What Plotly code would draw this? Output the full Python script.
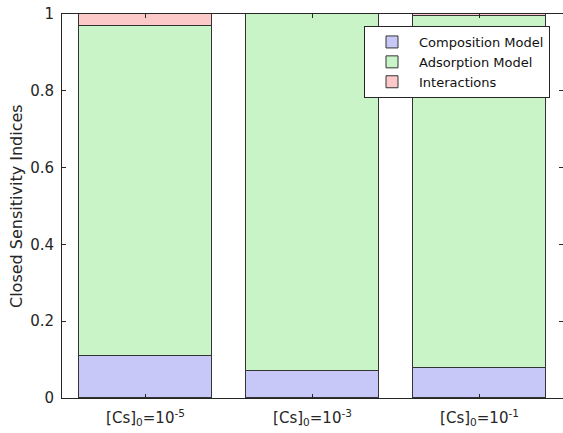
import plotly.graph_objects as go

categories = ["[Cs]<sub>0</sub>=10<sup>-5</sup>", "[Cs]<sub>0</sub>=10<sup>-3</sup>", "[Cs]<sub>0</sub>=10<sup>-1</sup>"]
composition = [0.109, 0.071, 0.079]
adsorption = [0.860, 0.929, 0.916]
interactions = [0.031, 0.000, 0.005]

xpos = [1, 2, 3]
edge = dict(color="#333333", width=1)
fig = go.Figure()
fig.add_trace(go.Bar(x=xpos, y=composition, name="Composition Model", marker=dict(color="#c8c8f8", line=edge), width=0.8))
fig.add_trace(go.Bar(x=xpos, y=adsorption, name="Adsorption Model", marker=dict(color="#c8f4c8", line=edge), width=0.8))
fig.add_trace(go.Bar(x=xpos, y=interactions, name="Interactions", marker=dict(color="#fcc8c8", line=edge), width=0.8))

W, H = 563, 433
L, R, T, B = 62, 0, 14, 35
pw, ph = W - L - R, H - T - B

axis_common = dict(showline=True, linecolor="#262626", linewidth=1, mirror="ticks", ticks="inside",
                   ticklen=4, tickcolor="#262626", showgrid=False, zeroline=False, automargin=False,
                   ticklabeloverflow="allow",
                   tickfont=dict(family="DejaVu Sans", size=15, color="#262626"))
fig.update_layout(
    width=W, height=H,
    barmode="stack", bargap=0,
    plot_bgcolor="white", paper_bgcolor="white",
    margin=dict(l=L, r=R, t=T, b=B),
    font=dict(family="DejaVu Sans", color="#262626"),
    xaxis=dict(range=[0.5, 3.5], tickvals=xpos, ticktext=categories, ticklabelstandoff=6, **axis_common),
    yaxis=dict(range=[0, 1], tickvals=[0, 0.2, 0.4, 0.6, 0.8, 1], ticktext=["0", "0.2", "0.4", "0.6", "0.8", "1"],
               ticklabelstandoff=4, **axis_common),
    legend=dict(x=(364 - L) / pw, y=1 - (26 - T) / ph, xref="paper", yref="paper", xanchor="left", yanchor="top",
                traceorder="normal", bgcolor="white", bordercolor="#262626", borderwidth=1,
                font=dict(size=13, color="#111111"), itemwidth=44, tracegroupgap=0),
    showlegend=True,
    annotations=[dict(text="Closed Sensitivity Indices", textangle=-90, xref="paper", yref="paper",
                      x=(16 - L) / pw, y=0.5, xanchor="center", yanchor="middle", showarrow=False,
                      font=dict(size=16, color="#262626"))],
)
fig.write_html("out.html", post_script="document.body.style.margin='0';",
               config={"displayModeBar": False})
